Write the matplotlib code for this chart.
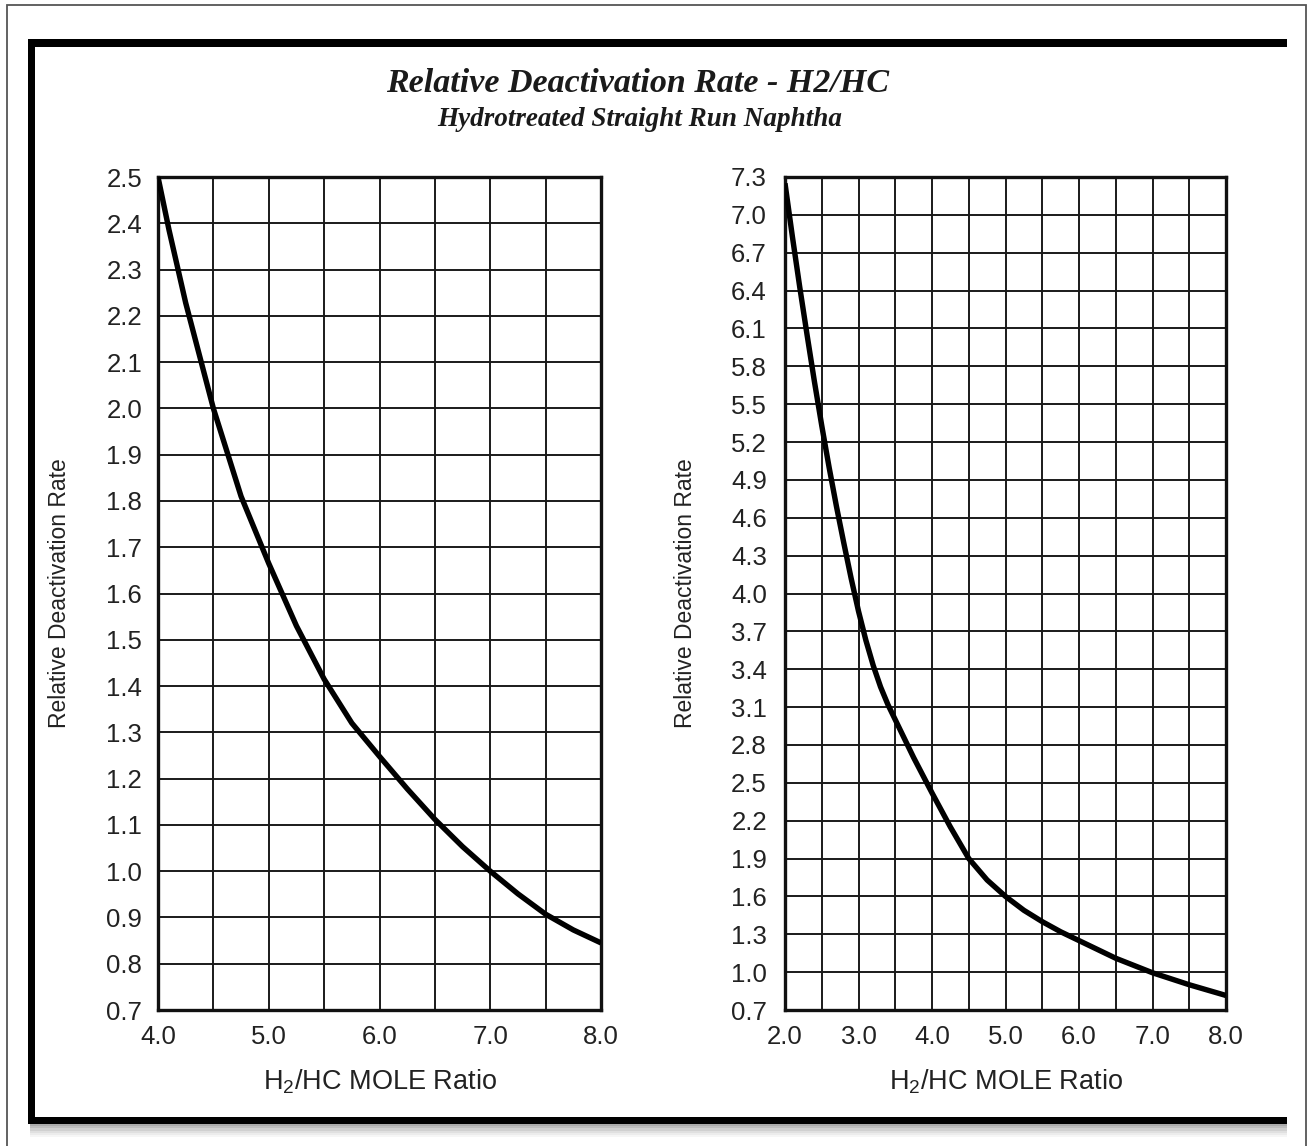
import matplotlib
matplotlib.use("Agg")
import matplotlib.pyplot as plt
from matplotlib.patches import Rectangle
from matplotlib.ticker import FixedLocator, FormatStrFormatter

plt.rcParams['font.family'] = ['Liberation Sans', 'DejaVu Sans']
plt.rcParams['mathtext.default'] = 'regular'

# ---- data -------------------------------------------------------------
# Left chart: H2/HC ratio 4-8
ratio_left = [4.0, 4.1, 4.25, 4.5, 4.75, 5.0, 5.25, 5.5, 5.75, 6.0, 6.25,
              6.5, 6.75, 7.0, 7.25, 7.5, 7.75, 8.0]
rate_left = [2.5, 2.385, 2.228, 2.0, 1.81, 1.665, 1.53, 1.415, 1.32, 1.248, 1.178,
             1.112, 1.053, 1.0, 0.951, 0.907, 0.873, 0.845]

# Right chart: H2/HC ratio 2-8
ratio_right = [2.0, 2.1, 2.2, 2.3, 2.4, 2.5, 2.6, 2.7, 2.8, 2.9, 3.0,
               3.1, 3.2, 3.3, 3.4, 3.5, 3.75, 4.0, 4.25, 4.5, 4.75, 5.0,
               5.25, 5.5, 5.75, 6.0, 6.5, 7.0, 7.5, 8.0]
rate_right = [7.25, 6.83, 6.43, 6.05, 5.68, 5.33, 5.0, 4.69, 4.40, 4.12, 3.86,
              3.63, 3.43, 3.26, 3.12, 3.0, 2.70, 2.42, 2.15, 1.90, 1.73, 1.60,
              1.49, 1.40, 1.32, 1.25, 1.11, 0.995, 0.90, 0.815]

yticks_left = [0.7, 0.8, 0.9, 1.0, 1.1, 1.2, 1.3, 1.4, 1.5, 1.6, 1.7, 1.8,
               1.9, 2.0, 2.1, 2.2, 2.3, 2.4, 2.5]
xticks_left = [4.0, 5.0, 6.0, 7.0, 8.0]
xgrid_left = [4.5, 5.5, 6.5, 7.5]

yticks_right = [0.7, 1.0, 1.3, 1.6, 1.9, 2.2, 2.5, 2.8, 3.1, 3.4, 3.7, 4.0,
                4.3, 4.6, 4.9, 5.2, 5.5, 5.8, 6.1, 6.4, 6.7, 7.0, 7.3]
xticks_right = [2.0, 3.0, 4.0, 5.0, 6.0, 7.0, 8.0]
xgrid_right = [2.5, 3.5, 4.5, 5.5, 6.5, 7.5]

title = "Relative Deactivation Rate - H2/HC"
subtitle = "Hydrotreated Straight Run Naphtha"
xlabel = "H$_2$/HC MOLE Ratio"
ylabel = "Relative Deactivation Rate"

# ---- figure -----------------------------------------------------------
W, H = 1307, 1146
fig = plt.figure(figsize=(W / 100, H / 100), dpi=100)
fig.patch.set_facecolor('white')

# pixel-space layer for the page frame
bg = fig.add_axes([0, 0, 1, 1], zorder=-5)
bg.set_xlim(0, W)
bg.set_ylim(H, 0)
bg.axis('off')

# thin outer border (open at the bottom)
bg.plot([7, 7, 1306, 1306], [H + 5, 5, 5, H + 5], color='#555555', lw=1.3,
        solid_joinstyle='miter')
# soft shadow under the heavy frame
for i, a in enumerate([0.55, 0.42, 0.3, 0.2, 0.12, 0.06]):
    bg.add_patch(Rectangle((30, 1124 + i * 2.2), 1257, 2.2, color='#666666',
                           alpha=a, lw=0))
# heavy frame: top, left, bottom
bg.add_patch(Rectangle((28, 39), 1259, 8, color='black', lw=0))
bg.add_patch(Rectangle((28, 39), 7, 1085, color='black', lw=0))
bg.add_patch(Rectangle((28, 1117), 1259, 7, color='black', lw=0))

txt_color = '#222222'
fig.text(638 / W, 1 - 92 / H, title, ha='center', va='baseline',
         family='Liberation Serif', weight='bold', style='italic',
         size=24.5, color='#1a1a1a')
fig.text(640 / W, 1 - 126 / H, subtitle, ha='center', va='baseline',
         family='Liberation Serif', weight='bold', style='italic',
         size=19.5, color='#1a1a1a')

top, bottom = 177, 1010
ax_specs = [
    (158, 601, ratio_left, rate_left, yticks_left, xticks_left, xgrid_left, 11.5, 60),
    (785, 1226, ratio_right, rate_right, yticks_right, xticks_right, xgrid_right, 13, 686),
]

for x0, x1, xs, ys, yt, xt, xg, ypad, ylab_x in ax_specs:
    ax = fig.add_axes([x0 / W, 1 - bottom / H, (x1 - x0) / W, (bottom - top) / H])
    ax.set_xlim(xt[0], xt[-1])
    ax.set_ylim(yt[0], yt[-1])

    ax.xaxis.set_major_locator(FixedLocator(xt))
    ax.xaxis.set_minor_locator(FixedLocator(xg))
    ax.yaxis.set_major_locator(FixedLocator(yt))
    ax.xaxis.set_major_formatter(FormatStrFormatter('%.1f'))
    ax.yaxis.set_major_formatter(FormatStrFormatter('%.1f'))

    ax.grid(True, which='both', color='#1a1a1a', lw=1.4)
    ax.set_axisbelow(True)
    ax.tick_params(which='both', length=0, labelsize=18.5, labelcolor=txt_color)
    ax.tick_params(axis='y', pad=ypad)
    ax.tick_params(axis='x', pad=11)
    for s in ax.spines.values():
        s.set_linewidth(2.4)
        s.set_color('#111111')

    ax.plot(xs, ys, color='black', lw=3.9, solid_capstyle='butt',
            solid_joinstyle='round', zorder=3)

    fig.text(ylab_x / W, 1 - 593 / H, ylabel, rotation=90, ha='center',
             va='center', size=16.5, color=txt_color)
    fig.text((x0 + x1) / 2 / W, 1 - 1090 / H, xlabel, ha='center',
             va='baseline', size=19.5, color=txt_color)

fig.savefig('out.png', dpi=100, facecolor='white')
